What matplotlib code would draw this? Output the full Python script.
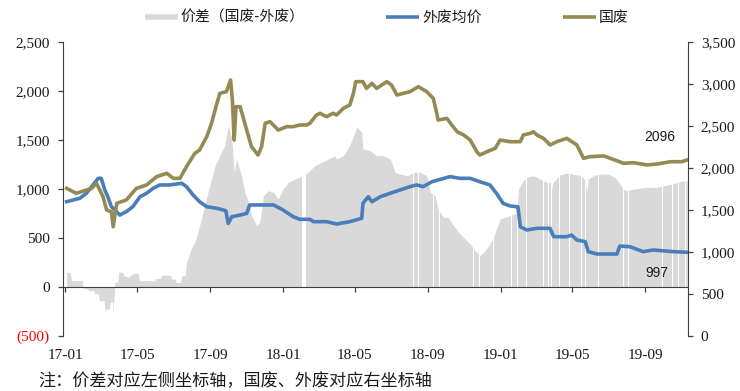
import matplotlib
matplotlib.use('Agg')
import matplotlib.pyplot as plt
from matplotlib.lines import Line2D
from matplotlib.font_manager import FontProperties
import pandas as pd

plt.rcParams['font.family'] = ['Liberation Serif', 'Noto Sans CJK SC', 'DejaVu Sans']

# ---------------- data ----------------
spread_dates = [
    '2017-01-03', '2017-01-09', '2017-01-11', '2017-01-29', '2017-01-31', '2017-02-07',
    '2017-02-09', '2017-02-17', '2017-02-19', '2017-02-25', '2017-02-27', '2017-03-07',
    '2017-03-08', '2017-03-09', '2017-03-10', '2017-03-16', '2017-03-17', '2017-03-21',
    '2017-03-22', '2017-03-23', '2017-03-25', '2017-03-30', '2017-03-31', '2017-04-07',
    '2017-04-09', '2017-04-17', '2017-04-25', '2017-05-03', '2017-05-05', '2017-05-31',
    '2017-06-02', '2017-06-09', '2017-06-11', '2017-06-26', '2017-06-28', '2017-07-04',
    '2017-07-06', '2017-07-13', '2017-07-15', '2017-07-21', '2017-07-23', '2017-07-31',
    '2017-08-08', '2017-08-17', '2017-08-28', '2017-09-09', '2017-09-17', '2017-09-25',
    '2017-10-01', '2017-10-07', '2017-10-11', '2017-10-15', '2017-10-23', '2017-10-29',
    '2017-11-04', '2017-11-09', '2017-11-18', '2017-11-23', '2017-11-29', '2017-12-07',
    '2017-12-16', '2017-12-24', '2018-01-01', '2018-01-10', '2018-01-21', '2018-02-01',
    '2018-02-12', '2018-02-23', '2018-03-07', '2018-03-18', '2018-03-29', '2018-04-01',
    '2018-04-12', '2018-04-23', '2018-04-29', '2018-05-05', '2018-05-13', '2018-05-15',
    '2018-05-27', '2018-06-07', '2018-06-18', '2018-06-30', '2018-07-08', '2018-07-16',
    '2018-07-28', '2018-08-08', '2018-08-19', '2018-08-30', '2018-09-05', '2018-09-13',
    '2018-09-18', '2018-09-27', '2018-10-05', '2018-10-14', '2018-10-25', '2018-11-05',
    '2018-11-11', '2018-11-19', '2018-11-27', '2018-12-06', '2018-12-14', '2018-12-20',
    '2018-12-25', '2018-12-31', '2019-01-08', '2019-01-17', '2019-01-22', '2019-01-28',
    '2019-01-31', '2019-02-08', '2019-02-14', '2019-02-25', '2019-03-08', '2019-03-19',
    '2019-03-26', '2019-03-27', '2019-03-29', '2019-04-02', '2019-04-10', '2019-04-22',
    '2019-05-03', '2019-05-17', '2019-05-23', '2019-05-26', '2019-05-28', '2019-06-08',
    '2019-06-19', '2019-06-30', '2019-07-12', '2019-07-20', '2019-07-29', '2019-08-14',
    '2019-09-01', '2019-09-18', '2019-10-04', '2019-10-21', '2019-11-04', '2019-11-10',
]
spread_vals = [
    150, 150, 65, 65, -17, -17,
    -38, -38, -71, -71, -140, -140,
    -224, -255, -224, -224, -155, -155,
    -255, -155, 48, 48, 150, 150,
    115, 100, 140, 140, 65, 65,
    88, 88, 120, 120, 80, 80,
    45, 45, 115, 115, 250, 390,
    490, 694, 966, 1238, 1340, 1442,
    1646, 1510, 1170, 1306, 1136, 966,
    864, 728, 626, 660, 932, 983,
    966, 898, 1000, 1068, 1102, 1130,
    1170, 1238, 1272, 1306, 1340, 1306,
    1340, 1442, 1544, 1630, 1578, 1408,
    1391, 1340, 1340, 1306, 1170, 1153,
    1136, 1170, 1170, 1136, 966, 932,
    796, 711, 711, 626, 541, 473,
    439, 371, 320, 371, 439, 507,
    592, 694, 711, 728, 745, 745,
    1000, 1085, 1119, 1136, 1102, 1068,
    1068, 966, 1060, 1085, 1143, 1163,
    1150, 1136, 1085, 966, 1102, 1143,
    1153, 1153, 1119, 1051, 983, 1000,
    1017, 1017, 1034, 1061, 1085, 1085,
]

# days with no spread value (white gaps in the grey area)
gap_dates = [
    '2018-02-02', '2018-02-03', '2018-02-04', '2018-02-05', '2018-02-06', '2018-02-07', '2018-02-08',
    '2018-08-08', '2018-08-12', '2018-08-16', '2018-09-10', '2018-09-21', '2018-10-03',
    '2018-10-13', '2018-10-30', '2018-11-16', '2018-11-27', '2018-12-20', '2018-12-31',
    '2019-01-19', '2019-01-29', '2019-01-30', '2019-02-14', '2019-03-03', '2019-03-14',
    '2019-03-22', '2019-03-27', '2019-04-10', '2019-04-27', '2019-05-17', '2019-05-23',
    '2019-06-14', '2019-06-30', '2019-07-12', '2019-07-26', '2019-08-03', '2019-08-23',
    '2019-09-12', '2019-09-29', '2019-10-16', '2019-10-26', '2019-11-07',
]

domestic_dates = [
    '2017-01-03', '2017-01-19', '2017-02-14', '2017-02-22', '2017-03-05', '2017-03-11',
    '2017-03-19', '2017-03-22', '2017-03-28', '2017-04-13', '2017-04-30', '2017-05-17',
    '2017-06-03', '2017-06-20', '2017-07-01', '2017-07-12', '2017-07-23', '2017-08-06',
    '2017-08-14', '2017-08-26', '2017-09-03', '2017-09-12', '2017-09-17', '2017-09-28',
    '2017-10-05', '2017-10-08', '2017-10-11', '2017-10-14', '2017-10-21', '2017-11-01',
    '2017-11-09', '2017-11-20', '2017-11-26', '2017-12-02', '2017-12-10', '2017-12-24',
    '2018-01-07', '2018-01-18', '2018-01-29', '2018-02-10', '2018-02-15', '2018-02-26',
    '2018-03-04', '2018-03-15', '2018-03-26', '2018-04-01', '2018-04-12', '2018-04-23',
    '2018-04-29', '2018-05-03', '2018-05-15', '2018-05-21', '2018-05-30', '2018-06-07',
    '2018-06-24', '2018-07-02', '2018-07-11', '2018-08-02', '2018-08-16', '2018-08-30',
    '2018-09-10', '2018-09-16', '2018-09-18', '2018-10-03', '2018-10-11', '2018-10-20',
    '2018-10-31', '2018-11-11', '2018-11-22', '2018-11-27', '2018-12-09', '2018-12-23',
    '2018-12-31', '2019-01-17', '2019-02-03', '2019-02-08', '2019-02-20', '2019-02-25',
    '2019-03-03', '2019-03-14', '2019-03-25', '2019-04-05', '2019-04-22', '2019-05-09',
    '2019-05-20', '2019-05-31', '2019-06-23', '2019-07-04', '2019-07-15', '2019-07-26',
    '2019-08-12', '2019-09-04', '2019-09-21', '2019-10-13', '2019-11-01', '2019-11-10',
]
domestic_vals = [
    1758, 1699, 1758, 1818, 1658, 1500,
    1480, 1301, 1580, 1619, 1758, 1798,
    1897, 1937, 1877, 1877, 2016, 2175,
    2214, 2373, 2532, 2770, 2889, 2909,
    3048, 2810, 2333, 2730, 2730, 2452,
    2254, 2155, 2254, 2532, 2552, 2452,
    2492, 2492, 2512, 2512, 2532, 2631,
    2651, 2611, 2651, 2631, 2710, 2750,
    2889, 3028, 3028, 2948, 3008, 2948,
    3028, 2988, 2869, 2909, 2968, 2909,
    2829, 2651, 2571, 2591, 2512, 2432,
    2393, 2333, 2194, 2155, 2194, 2234,
    2333, 2313, 2313, 2393, 2413, 2432,
    2393, 2353, 2274, 2313, 2353, 2274,
    2115, 2135, 2143, 2115, 2087, 2056,
    2063, 2036, 2048, 2075, 2075, 2096,
]

import_dates = [
    '2017-01-03', '2017-01-14', '2017-01-25', '2017-02-05', '2017-02-16', '2017-02-25',
    '2017-03-02', '2017-03-08', '2017-03-13', '2017-03-19', '2017-03-25', '2017-04-02',
    '2017-04-13', '2017-04-24', '2017-05-06', '2017-05-17', '2017-05-28', '2017-06-08',
    '2017-06-25', '2017-07-15', '2017-07-23', '2017-08-03', '2017-08-14', '2017-08-26',
    '2017-09-12', '2017-09-23', '2017-09-27', '2017-10-01', '2017-10-07', '2017-10-21',
    '2017-11-01', '2017-11-06', '2017-11-23', '2017-12-16', '2018-01-01', '2018-01-18',
    '2018-01-29', '2018-02-15', '2018-02-21', '2018-03-15', '2018-04-01', '2018-04-23',
    '2018-05-13', '2018-05-15', '2018-05-24', '2018-05-30', '2018-06-13', '2018-06-30',
    '2018-07-16', '2018-08-02', '2018-08-13', '2018-08-24', '2018-09-08', '2018-09-22',
    '2018-10-08', '2018-10-25', '2018-11-11', '2018-11-27', '2018-12-14', '2018-12-25',
    '2019-01-05', '2019-01-17', '2019-01-28', '2019-01-30', '2019-02-03', '2019-02-14',
    '2019-03-03', '2019-03-25', '2019-03-31', '2019-04-22', '2019-04-30', '2019-05-09',
    '2019-05-23', '2019-05-28', '2019-06-12', '2019-07-15', '2019-07-20', '2019-08-06',
    '2019-08-28', '2019-09-14', '2019-10-18', '2019-11-10',
]
import_vals = [
    1599, 1619, 1639, 1699, 1798, 1877,
    1877, 1738, 1658, 1539, 1500, 1440,
    1480, 1539, 1658, 1699, 1758, 1798,
    1798, 1818, 1778, 1679, 1599, 1539,
    1520, 1500, 1490, 1341, 1420, 1440,
    1460, 1560, 1560, 1560, 1500, 1420,
    1389, 1389, 1361, 1361, 1333, 1361,
    1401, 1580, 1658, 1599, 1658, 1699,
    1738, 1778, 1798, 1778, 1837, 1865,
    1897, 1877, 1877, 1837, 1798, 1699,
    1580, 1548, 1539, 1539, 1301, 1262,
    1282, 1282, 1182, 1182, 1202, 1143,
    1123, 1004, 976, 976, 1071, 1063,
    1004, 1024, 1004, 997,
]

left_ticks = [-500, 0, 500, 1000, 1500, 2000, 2500]
left_labels = ['(500)', '0', '500', '1,000', '1,500', '2,000', '2,500']
right_ticks = [0, 500, 1000, 1500, 2000, 2500, 3000, 3500]
right_labels = ['0', '500', '1,000', '1,500', '2,000', '2,500', '3,000', '3,500']
xtick_dates = ['2017-01-01', '2017-05-01', '2017-09-01', '2018-01-01', '2018-05-01',
               '2018-09-01', '2019-01-01', '2019-05-01', '2019-09-01']
xtick_labels = ['17-01', '17-05', '17-09', '18-01', '18-05', '18-09', '19-01', '19-05', '19-09']

legend_labels = ['价差（国废-外废）', '外废均价', '国废']
note_text = '注：价差对应左侧坐标轴，国废、外废对应右坐标轴'

# ---------------- style ----------------
C_GREY = '#D9D9D9'
C_BLUE = '#4A7EBB'
C_OLIVE = '#948A54'
C_TEXT = '#1a1a1a'
CJK = ['Noto Sans CJK SC', 'DejaVu Sans']
SERIF_FP = FontProperties(family='Liberation Serif', size=11)

W, H = 740, 391
fig = plt.figure(figsize=(W / 100, H / 100), dpi=100)
L, R, T, B = 63.3, 687.5, 42, 336
ax = fig.add_axes([L / W, 1 - B / H, (R - L) / W, (B - T) / H])

sd = pd.to_datetime(spread_dates)
ax.fill_between(sd, spread_vals, 0, color=C_GREY, lw=0, zorder=1)
ax.bar(pd.to_datetime(gap_dates), 2500, width=1.3, bottom=0, color='white', lw=0, zorder=1.1)

ax.set_ylim(-500, 2500)
ax.set_xlim(pd.Timestamp('2016-12-28 08:00'), pd.Timestamp('2019-11-10 12:00'))
ax.set_yticks(left_ticks)
ax.set_yticklabels(left_labels)
ax.set_xticks(pd.to_datetime(xtick_dates))
ax.set_xticklabels(xtick_labels)

for s in ['top', 'right']:
    ax.spines[s].set_visible(False)
ax.spines['bottom'].set_position(('data', 0))
ax.spines['bottom'].set_color('#404040')
ax.spines['left'].set_color('#404040')
ax.spines['bottom'].set_zorder(3)
ax.tick_params(axis='y', direction='out', length=3.6, width=0.9, pad=6, color='#404040')
ax.tick_params(axis='x', direction='out', length=3.6, width=0.9, pad=41, color='#404040')

ax2 = ax.twinx()
ax2.plot(pd.to_datetime(import_dates), import_vals, color=C_BLUE, lw=2.6, solid_joinstyle='round')
ax2.plot(pd.to_datetime(domestic_dates), domestic_vals, color=C_OLIVE, lw=2.6, solid_joinstyle='round')
ax2.set_ylim(0, 3500)
ax2.set_yticks(right_ticks)
ax2.set_yticklabels(right_labels)
for s in ['top', 'left', 'bottom']:
    ax2.spines[s].set_visible(False)
ax2.spines['right'].set_color('#404040')
ax2.tick_params(axis='y', direction='out', length=3.6, width=0.9, pad=6, color='#404040')

for lab in ax.get_xticklabels() + ax.get_yticklabels() + ax2.get_yticklabels():
    lab.set_fontproperties(SERIF_FP)
    lab.set_color(C_TEXT)
ax.get_yticklabels()[0].set_color('#FF0000')

# end labels
ax2.annotate(f'{domestic_vals[-1]}', xy=(pd.to_datetime(domestic_dates[-1]), domestic_vals[-1]),
             xytext=(-19.5, 16.5), textcoords='offset points', ha='center', va='center',
             fontfamily='Liberation Sans', fontsize=10, color=C_TEXT)
ax2.annotate(f'{import_vals[-1]}', xy=(pd.to_datetime(import_dates[-1]), import_vals[-1]),
             xytext=(-21.5, -15), textcoords='offset points', ha='center', va='center',
             fontfamily='Liberation Sans', fontsize=10, color=C_TEXT)

handles = [Line2D([], [], color=C_GREY, lw=4, solid_capstyle='butt'),
           Line2D([], [], color=C_BLUE, lw=2.6, solid_capstyle='butt'),
           Line2D([], [], color=C_OLIVE, lw=2.6, solid_capstyle='butt')]
fig.legend(handles, legend_labels, loc='center left', bbox_to_anchor=(145 / W, 1 - 18 / H),
           ncol=3, frameon=False, prop=FontProperties(family=CJK, size=10.7),
           handlelength=2.2, handletextpad=0.2, columnspacing=5.5,
           borderpad=0, borderaxespad=0, labelcolor=C_TEXT)

fig.text(38 / W, 1 - 381 / H, note_text, fontfamily=CJK, fontsize=12.3, va='center', ha='left', color=C_TEXT)

fig.savefig('out.png', dpi=100)
